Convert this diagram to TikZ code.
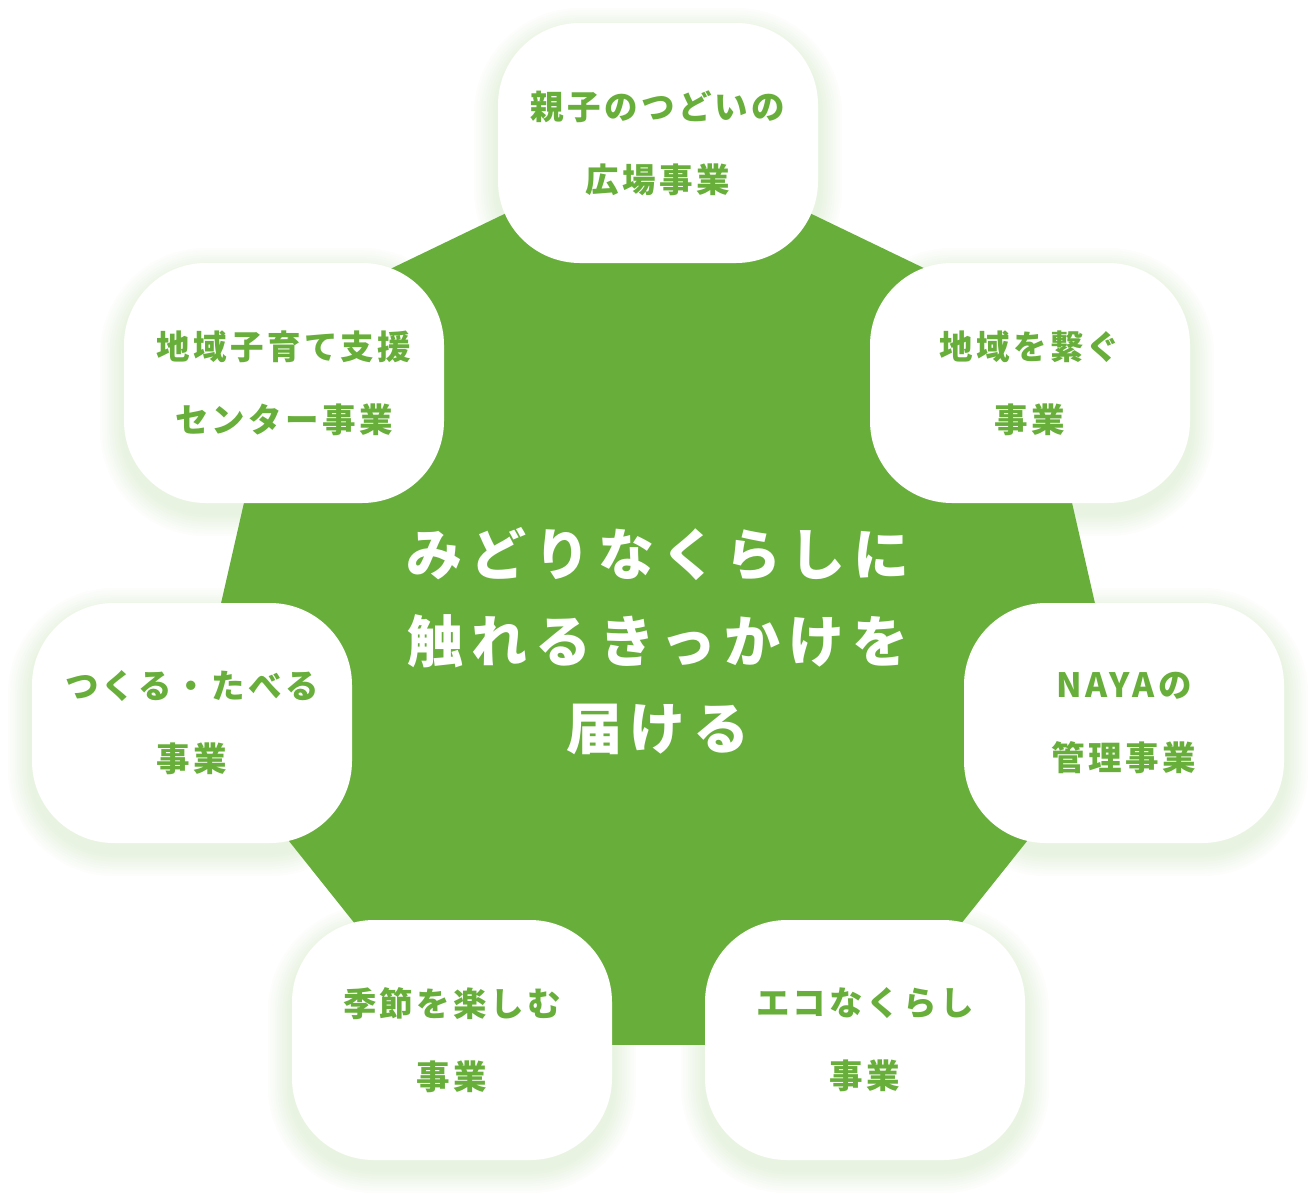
\documentclass[tikz,border=0pt]{standalone}
\usepackage{fontspec}
\usetikzlibrary{shapes.geometric,backgrounds}
\newfontfamily\jpfont[LetterSpace=10]{Noto Sans CJK JP}
\newfontfamily\hubfont[LetterSpace=14]{Noto Sans CJK JP}
\definecolor{leaf}{HTML}{67AF3A}

\begin{document}
\begin{tikzpicture}[x=1pt, y=-1pt,
    item/.style={fill=white, rounded corners=82pt, minimum width=320pt, minimum height=240pt,
      align=center, text=leaf, font=\jpfont\bfseries\fontsize{33.5}{73}\selectfont},
    hub/.style={align=center, text=white, font=\hubfont\bfseries\fontsize{56}{87}\selectfont},
    glowlayer/.style={fill=leaf, fill opacity=0.017}]

    \useasboundingbox (0,0) rectangle (1316,1200);

    % green heptagon behind the boxes
    \node[regular polygon, regular polygon sides=7, minimum size=952pt, inner sep=0pt,
      fill=leaf] (hept) at (658,616) {};

    \node[hub] (msg) at (658,641) {みどりなくらしに\\触れるきっかけを\\届ける};

    % the seven activities
    \node[item] (hiroba) at (658,143) {親子のつどいの\\広場事業};
    \node[item] (tsunagu) at (1030,383) {地域を繋ぐ\\事業};
    \node[item] (naya) at (1124,723) {NAYAの\\管理事業};
    \node[item] (eco) at (865,1040) {エコなくらし\\事業};
    \node[item] (kisetsu) at (452,1040) {季節を楽しむ\\事業};
    \node[item] (tabe) at (192,723) {つくる・たべる\\事業};
    \node[item] (shien) at (284,383) {地域子育て支援\\センター事業};

    % soft glow under each box
    \begin{pgfonlayer}{background}
      \foreach \n in {hiroba,tsunagu,naya,eco,kisetsu,tabe,shien}
        \foreach \i in {1,...,10}
          \fill[glowlayer, rounded corners=82pt+2.4pt*\i]
            ([shift={(-2.4pt*\i,-2.4pt*\i-9pt)}]\n.south west) rectangle
            ([shift={(2.4pt*\i,2.4pt*\i-9pt)}]\n.north east);
    \end{pgfonlayer}

\end{tikzpicture}
\end{document}
